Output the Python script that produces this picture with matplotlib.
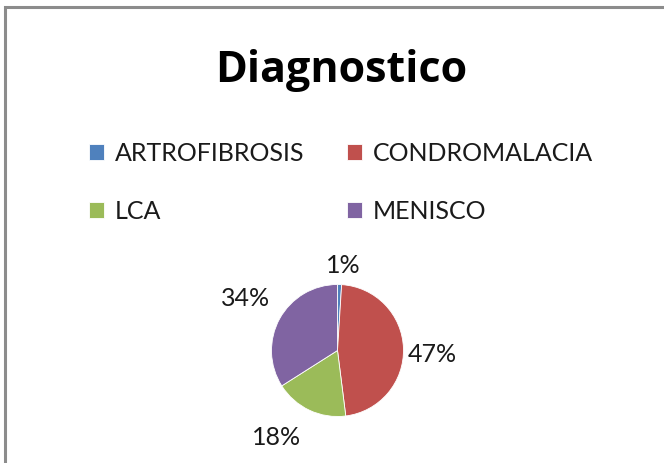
import numpy as np
import matplotlib
matplotlib.use("Agg")
import matplotlib.pyplot as plt
from matplotlib.patches import Rectangle

# данные
categories = ["ARTROFIBROSIS", "CONDROMALACIA", "LCA", "MENISCO"]
values = [1, 47, 18, 34]
colors = ["#4F81BD", "#C0504D", "#9BBB59", "#8064A2"]
title = "Diagnostico"

# положение подписей (в радиусах круга)
label_xy = [(0.08, 1.31), (1.43, -0.05), (-0.93, -1.31), (-1.39, 0.81)]

W, H = 664, 464
plt.rcParams["font.family"] = ["Lato", "DejaVu Sans"]

fig = plt.figure(figsize=(W / 100, H / 100), dpi=100)
fig.patch.set_facecolor("white")

# рамка диаграммы
fig.patches.append(Rectangle((5 / W, -0.1), 1.2, (H - 8) / H + 0.1,
                             transform=fig.transFigure, fill=False,
                             edgecolor="#8c8c8c", linewidth=2.2))

# круг
cx, cy, r = 337.5, H - 351.5, 66
ax = fig.add_axes([(cx - r) / W, (cy - r) / H, 2 * r / W, 2 * r / H])
wedges, _ = ax.pie(values, colors=colors, startangle=90, counterclock=False,
                   wedgeprops=dict(edgecolor="white", linewidth=0.6))
ax.set_xlim(-1, 1)
ax.set_ylim(-1, 1)
ax.set_aspect("equal")
ax.axis("off")

for v, (lx, ly) in zip(values, label_xy):
    ax.text(lx, ly, f"{v}%", ha="center", va="center", fontsize=18,
            color="#1a1a1a", clip_on=False)

fig.text(341 / W, 1 - 70 / H, title, ha="center", va="center",
         fontsize=31, fontweight="bold", family=["Open Sans", "DejaVu Sans"])

# легенда по строкам: matplotlib заполняет по столбцам
order = [0, 2, 1, 3]
leg = fig.legend([wedges[i] for i in order], [categories[i] for i in order],
                 ncol=2, loc="center left",
                 bbox_to_anchor=(66 / W, 1 - 183 / H), frameon=False,
                 fontsize=18, handlelength=0.6, handleheight=0.6,
                 handletextpad=0.45, columnspacing=1.7, labelspacing=1.4)
for t in leg.get_texts():
    t.set_color("#1a1a1a")

fig.savefig("out.png", dpi=100)
